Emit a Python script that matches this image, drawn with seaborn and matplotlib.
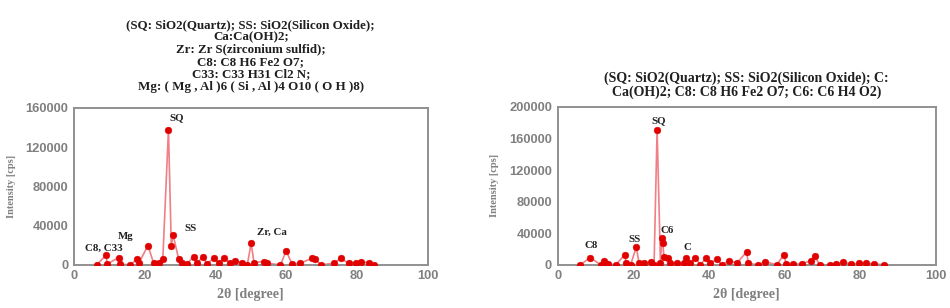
import matplotlib
matplotlib.use("Agg")
import matplotlib.pyplot as plt
import seaborn as sns
import pandas as pd

sns.set_theme(style="white")
plt.rcParams['font.family'] = ['Liberation Serif', 'DejaVu Serif']

# ---- Left panel data ----
left_deg = [6.4, 9.1, 9.3, 12.6, 13.0, 15.9, 17.8, 18.3, 20.9, 22.5, 23.9, 25.1, 26.7,
            27.5, 28.0, 29.6, 30.5, 31.9, 33.8, 34.8, 36.5, 37.6, 39.5, 40.9, 42.5,
            44.2, 45.6, 47.5, 49.0, 50.1, 50.9, 53.7, 54.6, 58.4, 60.0, 61.7, 64.0,
            67.4, 68.3, 69.8, 73.5, 75.4, 77.7, 79.7, 81.1, 83.5, 84.9]
left_int = [0, 10200, 700, 7500, 700, 0, 5800, 1700, 19700, 1700, 2400, 5800, 137700,
            19400, 30600, 5800, 1700, 700, 8500, 1700, 8500, 700, 6800, 2400, 6500,
            1700, 4400, 1700, 0, 22100, 2400, 3400, 1700, 0, 14300, 700, 1700,
            6800, 5800, 0, 1700, 6500, 1700, 2400, 2700, 2400, 0]
left_labels = ["SQ", "SS", "Mg", "C8, C33", "Zr, Ca"]
left_lab_x = [28.9, 32.9, 14.5, 8.3, 56.0]
left_lab_y = [149600, 37400, 28900, 17000, 33300]
left_title = ("(SQ: SiO2(Quartz); SS: SiO2(Silicon Oxide);\nCa:Ca(OH)2;\n"
              "Zr: Zr S(zirconium sulfid);\nC8: C8 H6 Fe2 O7;\nC33: C33 H31 Cl2 N;\n"
              "Mg: ( Mg , Al )6 ( Si , Al )4 O10 ( O H )8)")

# ---- Right panel data ----
right_deg = [6.0, 8.6, 11.4, 12.3, 13.2, 15.4, 17.7, 18.2, 19.3, 20.8, 21.5, 22.8,
             24.6, 25.5, 26.3, 27.2, 27.5, 27.8, 28.1, 29.1, 29.8, 31.6, 33.4, 33.9,
             35.1, 36.4, 37.7, 39.3, 40.4, 42.1, 43.4, 45.4, 47.4, 50.0, 50.4, 53.1,
             54.8, 57.9, 59.8, 60.5, 62.3, 64.5, 67.1, 68.0, 69.3, 71.9, 73.7, 75.4,
             77.6, 79.8, 81.6, 83.8, 86.4]
right_int = [0, 9300, 0, 5500, 1300, 0, 12600, 2100, 0, 22700, 2900, 2100,
             3400, 0, 171000, 2100, 33700, 28200, 10500, 8400, 2100, 2100, 2100, 8800,
             2100, 9300, 0, 8800, 2100, 7200, 0, 5500, 2100, 16800, 2100, 0,
             4200, 0, 12200, 1300, 900, 1300, 5500, 11400, 0, 0, 1300, 3400,
             900, 2100, 2100, 1300, 0]
right_labels = ["SQ", "C6", "SS", "C8", "C"]
right_lab_x = [26.6, 28.9, 20.4, 8.8, 34.2]
right_lab_y = [182300, 43400, 31600, 24000, 22300]
right_title = ("(SQ: SiO2(Quartz); SS: SiO2(Silicon Oxide); C:\n"
               "Ca(OH)2; C8: C8 H6 Fe2 O7; C6: C6 H4 O2)")

fig = plt.figure(figsize=(9.5, 3.08), dpi=100)
ax1 = fig.add_axes([0.078, 0.140, 0.372, 0.510])
ax2 = fig.add_axes([0.587, 0.140, 0.398, 0.513])

grey = "#808080"


def draw(ax, deg, inten, labs, lx, ly, title, ymax, ticks, title_size, lsp, pad):
    df = pd.DataFrame({"deg": deg, "int": inten})
    sns.lineplot(data=df, x="deg", y="int", ax=ax, color="#f07f86", lw=1.2,
                 sort=False, estimator=None)
    sns.scatterplot(data=df, x="deg", y="int", ax=ax, color="#e00000", s=24,
                    edgecolor="#e00000", linewidth=0.3, zorder=3)
    for t, x, y in zip(labs, lx, ly):
        ax.text(x, y, t, ha="center", va="center", fontsize=7.8, weight="bold",
                color="#202020")
    ax.set_xlim(0, 100)
    ax.set_ylim(0, ymax)
    ax.set_xticks([0, 20, 40, 60, 80, 100])
    ax.set_yticks(ticks)
    for lab in ax.get_xticklabels() + ax.get_yticklabels():
        lab.set_fontfamily("Liberation Sans")
        lab.set_fontweight("bold")
        lab.set_fontsize(9.3)
        lab.set_color(grey)
    ax.tick_params(length=0, pad=4)
    for s in ax.spines.values():
        s.set_color("#909090")
        s.set_linewidth(1.4)
    ax.set_xlabel("2θ [degree]", fontsize=10, weight="bold", color=grey, labelpad=4)
    ax.set_ylabel("Intensity [cps]", fontsize=7.5, weight="bold", color=grey, labelpad=7)
    ax.set_title(title, fontsize=title_size, weight="bold", color="#202020",
                 linespacing=lsp, pad=pad)


draw(ax1, left_deg, left_int, left_labels, left_lab_x, left_lab_y, left_title,
     160000, [0, 40000, 80000, 120000, 160000], 9.4, 1.04, 13)
draw(ax2, right_deg, right_int, right_labels, right_lab_x, right_lab_y, right_title,
     200000, [0, 40000, 80000, 120000, 160000, 200000], 10, 1.03, 8)

fig.savefig("out.png", dpi=100)
